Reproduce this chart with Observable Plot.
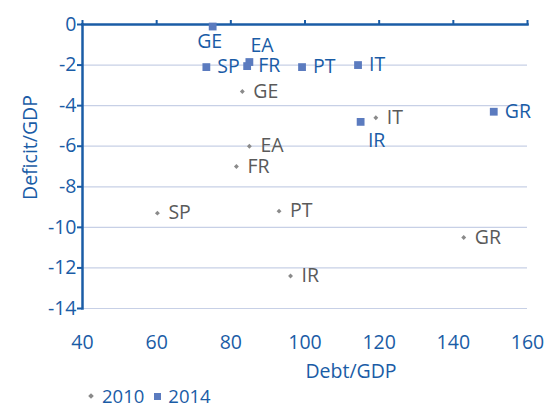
<!DOCTYPE html>
<html><head><meta charset="utf-8">
<script src="https://cdn.jsdelivr.net/npm/d3@7"></script>
<script src="https://cdn.jsdelivr.net/npm/@observablehq/plot@0.6"></script>
<style>
body{margin:0;background:#fff;font-family:"Open Sans",sans-serif;}
#legend{height:24px;line-height:24px;display:flex;align-items:center;font-size:18.5px;color:#1a5ca6;padding-left:89px;}
#legend span.sym{display:inline-block;}
</style></head><body>
<div id="chart"></div>
<div id="legend"><span class="sym" style="width:4px;height:4px;background:#8a8a8a;transform:rotate(45deg);margin-right:9px"></span><span>2010</span><span class="sym" style="width:7px;height:7px;background:#5b7bbf;margin-left:10px;margin-right:7px"></span><span>2014</span></div>
<script>
const countries = ["GE","EA","FR","SP","PT","GR","IR","IT"];
const debt2010 = [83.1, 85.0, 81.5, 60.2, 93.0, 142.8, 96.1, 119.1];
const deficit2010 = [-3.3, -6.0, -7.0, -9.3, -9.2, -10.5, -12.4, -4.6];
const debt2014 = [75.1, 85.0, 84.4, 73.4, 99.2, 150.9, 115.0, 114.3];
const deficit2014 = [-0.1, -1.85, -2.05, -2.1, -2.1, -4.3, -4.8, -2.0];
const xTicks = [40, 60, 80, 100, 120, 140, 160];
const yTicks = [0, -2, -4, -6, -8, -10, -12, -14];

const d10 = countries.map((c, i) => ({c, x: debt2010[i], y: deficit2010[i]}));
const d14 = countries.map((c, i) => ({c, x: debt2014[i], y: deficit2014[i]}));
const below = new Set(["GE", "IR"]);
const above = new Set(["EA"]);
const l14right = d14.filter(d => !below.has(d.c) && !above.has(d.c));
const l14GE = d14.filter(d => d.c === "GE");
const l14IR = d14.filter(d => d.c === "IR");
const l14EA = d14.filter(d => d.c === "EA");

const blue = "#1a5ca6", grid = "#c7d0e6";
const fs = 19.5;

const chart = Plot.plot({
  width: 555, height: 384,
  marginLeft: 82, marginRight: 28, marginTop: 24, marginBottom: 76,
  style: {fontFamily: "Open Sans", fontSize: fs + "px", color: blue, background: "white"},
  x: {domain: [40, 160]},
  y: {domain: [-14, 0]},
  marks: [
    Plot.gridY(yTicks, {stroke: grid, strokeOpacity: 1, strokeWidth: 1.2}),
    Plot.axisY(yTicks, {anchor: "left", tickSize: 5, tickPadding: 1, tickFormat: d => String(d), stroke: blue, strokeWidth: 2, fill: blue, label: null, fontSize: fs}),
    Plot.axisX(xTicks, {anchor: "top", tickSize: 5, tickFormat: () => "", stroke: blue, strokeWidth: 2, label: null}),
    Plot.axisX(xTicks, {anchor: "bottom", tickSize: 0, tickPadding: 27, tickFormat: d => String(d), fill: blue, label: null, fontSize: fs}),
    Plot.frame({anchor: "left", stroke: blue, strokeWidth: 2.5}),
    Plot.frame({anchor: "top", stroke: blue, strokeWidth: 2.5}),
    Plot.text(["Debt/GDP"], {frameAnchor: "bottom", lineAnchor: "middle", dx: 46, dy: 63, fill: blue, fontSize: fs}),
    Plot.text(["Deficit/GDP"], {frameAnchor: "left", textAnchor: "middle", dx: -52, dy: -19, rotate: -90, fill: blue, fontSize: fs}),
    Plot.dot(d10, {x: "x", y: "y", symbol: "diamond2", r: 2.2, fill: "#8a8a8a", stroke: "none"}),
    Plot.dot(d14, {x: "x", y: "y", symbol: "square", r: 4.4, fill: "#5b7bbf", stroke: "none"}),
    Plot.text(d10, {x: "x", y: "y", text: "c", dx: 11, textAnchor: "start", fill: "#5a5a5a", fontSize: fs}),
    Plot.text(l14right, {x: "x", y: "y", text: "c", dx: 11, textAnchor: "start", fill: blue, fontSize: fs}),
    Plot.text(l14GE, {x: "x", y: "y", text: "c", dx: -3, dy: 15, textAnchor: "middle", fill: blue, fontSize: fs}),
    Plot.text(l14IR, {x: "x", y: "y", text: "c", dx: 16, dy: 19, textAnchor: "middle", fill: blue, fontSize: fs}),
    Plot.text(l14EA, {x: "x", y: "y", text: "c", dx: 1, dy: -16, textAnchor: "start", fill: blue, fontSize: fs})
  ]
});
document.getElementById("chart").appendChild(chart);
</script>
</body></html>
